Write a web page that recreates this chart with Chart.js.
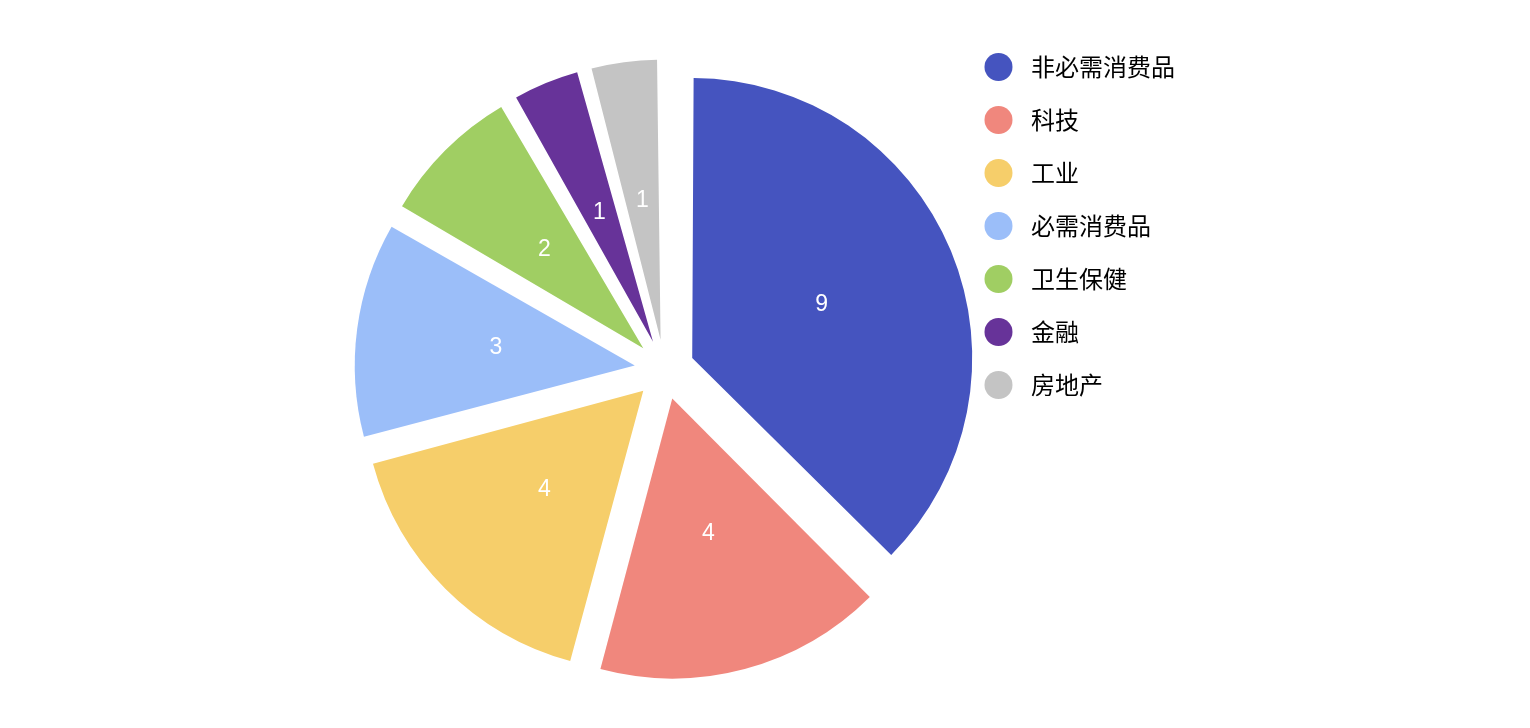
<!DOCTYPE html>
<html>
<head>
<meta charset="utf-8">
<script src="https://cdn.jsdelivr.net/npm/chart.js@4.4.1/dist/chart.umd.min.js"></script>
<style>
  html, body { margin: 0; padding: 0; background: #ffffff; }
  #wrap { width: 1530px; height: 728px; position: relative; }
</style>
</head>
<body>
<div id="wrap"><canvas id="c"></canvas></div>
<script>
// ---- data ----
const categories = ['非必需消费品', '科技', '工业', '必需消费品', '卫生保健', '金融', '房地产'];
const values = [9, 4, 4, 3, 2, 1, 1];
const colors = ['#4554BF', '#F0877D', '#F6CE6A', '#9BBEF9', '#A0CE63', '#673399', '#C4C4C4'];

// ---- styling constants ----
const SHIFT = 30;          // visual slice explode distance (px)
const RADIUS = 280;
const LEGEND_FONT = 24;

// legend marker images: circle shifted left inside a wider canvas
function makeMarker(color) {
  const cv = document.createElement('canvas');
  cv.width = 60; cv.height = 30;
  const g = cv.getContext('2d');
  g.fillStyle = color;
  g.beginPath();
  g.arc(19.5, 15, 14, 0, Math.PI * 2);
  g.fill();
  return cv;
}
const markers = colors.map(makeMarker);

// keep every exploded slice at the same outer radius
const evenRadius = {
  id: 'evenRadius',
  afterDatasetUpdate(chart, args) {
    const meta = chart.getDatasetMeta(args.index);
    const base = meta.controller.outerRadius;
    meta.data.forEach(arc => {
      const fix = 1 - Math.sin(Math.min(Math.PI, arc.circumference));
      arc.outerRadius = base - SHIFT * fix;
    });
  }
};

// value labels inside slices
const sliceLabels = {
  id: 'sliceLabels',
  afterDatasetsDraw(chart) {
    const ctx = chart.ctx;
    const meta = chart.getDatasetMeta(0);
    const ds = chart.data.datasets[0];
    ctx.save();
    ctx.fillStyle = '#ffffff';
    ctx.font = '23px "Liberation Sans", Arial, sans-serif';
    ctx.textAlign = 'center';
    ctx.textBaseline = 'middle';
    meta.data.forEach((arc, i) => {
      const a = (arc.startAngle + arc.endAngle) / 2;
      const d = SHIFT + RADIUS / 2;
      ctx.fillText(String(ds.data[i]), arc.x + Math.cos(a) * d, arc.y + Math.sin(a) * d);
    });
    ctx.restore();
  }
};

new Chart(document.getElementById('c'), {
  type: 'pie',
  data: {
    labels: categories,
    datasets: [{
      data: values,
      backgroundColor: colors,
      borderWidth: 0,
      offset: SHIFT * 4,
      radius: RADIUS
    }]
  },
  options: {
    responsive: true,
    maintainAspectRatio: false,
    animation: false,
    events: [],
    radius: RADIUS,
    layout: { padding: { left: 359, right: 345, top: 26, bottom: 15 } },
    plugins: {
      tooltip: { enabled: false },
      legend: {
        position: 'right',
        align: 'start',
        labels: {
          usePointStyle: true,
          boxWidth: 20,
          boxHeight: 20,
          padding: 29,
          color: '#222222',
          font: { family: '"Noto Sans CJK SC", sans-serif', size: LEGEND_FONT },
          generateLabels(chart) {
            return categories.map((c, i) => ({
              text: c,
              fillStyle: colors[i],
              strokeStyle: colors[i],
              lineWidth: 0,
              pointStyle: markers[i],
              hidden: false,
              index: i
            }));
          }
        }
      }
    }
  },
  plugins: [evenRadius, sliceLabels]
});
</script>
</body>
</html>
